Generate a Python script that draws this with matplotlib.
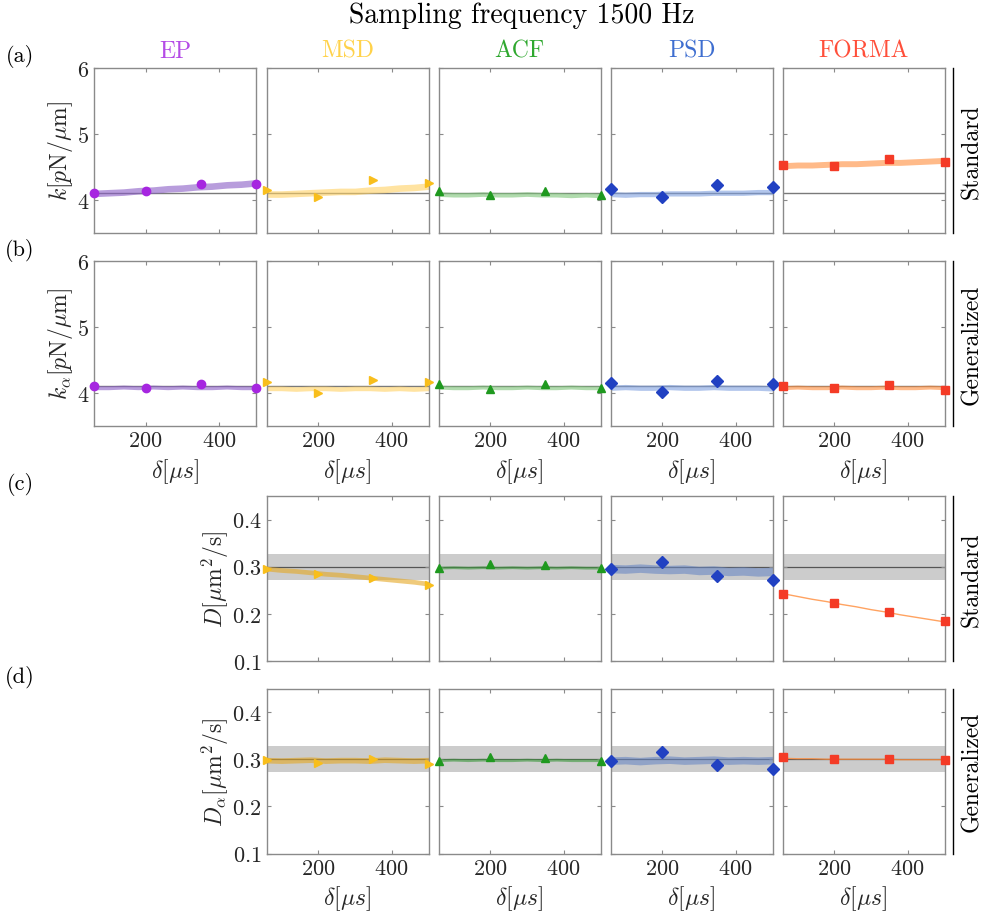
"""
Stiffness and diffusion estimates vs time step, sampling frequency 1500 Hz
"""

import matplotlib.pyplot as plt
import numpy as np

plt.rcParams["font.family"] = "cmr10"
plt.rcParams["mathtext.fontset"] = "cm"
plt.rcParams["axes.formatter.use_mathtext"] = True

METHODS = ["EP", "MSD", "ACF", "PSD", "FORMA"]
TITLE_COLORS = ["#B44BE6", "#FFD24A", "#2FA82F", "#3E6ED0", "#FF4F3A"]
MARKER_COLORS = ["#A626E0", "#F8BE1C", "#1F991F", "#2141C2", "#F43B26"]
BAND_COLORS = ["#8A5CC6", "#FFD163", "#7CC477", "#7FA0E0", "#FF8C3A"]
# bands over the grey tolerance strip look darker in the D rows
BAND_COLORS_D = ["#8A5CC6", "#E5A823", "#3E9A3E", "#6A88C4", "#FF8C3A"]
MARKERS = ["o", ">", "^", "D", "s"]

# delta [us]
delta = [60, 100, 140, 180, 220, 260, 300, 340, 380, 420, 460, 500]
delta_marks = [60, 200, 350, 500]

K_TRUE = 4.11
D_TRUE = 0.30
D_BAND = [0.272, 0.327]

# (a) k, standard
k_std_ep = [4.10, 4.11, 4.12, 4.14, 4.15, 4.17, 4.18, 4.20, 4.21, 4.23, 4.24, 4.26]
k_std_msd = [4.09, 4.09, 4.10, 4.11, 4.12, 4.13, 4.13, 4.15, 4.16, 4.18, 4.19, 4.21]
k_std_acf = [4.09, 4.08, 4.08, 4.09, 4.08, 4.08, 4.09, 4.08, 4.08, 4.07, 4.08, 4.07]
k_std_psd = [4.09, 4.08, 4.09, 4.09, 4.10, 4.10, 4.10, 4.11, 4.11, 4.11, 4.12, 4.12]
k_std_forma = [4.52, 4.53, 4.53, 4.54, 4.55, 4.55, 4.56, 4.57, 4.57, 4.58, 4.59, 4.60]
k_std_marks = [
    [4.11, 4.14, 4.25, 4.25],
    [4.15, 4.04, 4.30, 4.26],
    [4.13, 4.07, 4.13, 4.08],
    [4.16, 4.04, 4.23, 4.20],
    [4.53, 4.52, 4.62, 4.58],
]
k_std_hw = [0.05, 0.05, 0.035, 0.04, 0.045]

# (b) k_alpha, generalized
k_gen_ep = [4.08, 4.08, 4.09, 4.08, 4.09, 4.08, 4.09, 4.08, 4.08, 4.09, 4.08, 4.08]
k_gen_msd = [4.07, 4.07, 4.06, 4.07, 4.07, 4.06, 4.07, 4.07, 4.06, 4.07, 4.06, 4.07]
k_gen_acf = [4.09, 4.08, 4.08, 4.09, 4.08, 4.08, 4.09, 4.08, 4.08, 4.09, 4.08, 4.08]
k_gen_psd = [4.08, 4.09, 4.08, 4.08, 4.09, 4.08, 4.08, 4.09, 4.08, 4.08, 4.08, 4.07]
k_gen_forma = [4.08, 4.09, 4.08, 4.08, 4.09, 4.08, 4.08, 4.09, 4.08, 4.08, 4.09, 4.08]
k_gen_marks = [
    [4.11, 4.07, 4.13, 4.07],
    [4.16, 4.00, 4.20, 4.16],
    [4.13, 4.06, 4.13, 4.07],
    [4.15, 4.01, 4.18, 4.14],
    [4.10, 4.07, 4.12, 4.05],
]
k_gen_hw = [0.03, 0.035, 0.03, 0.04, 0.03]

# (c) D, standard (no EP)
d_std_msd = [0.296, 0.293, 0.291, 0.288, 0.285, 0.283, 0.280, 0.277, 0.274, 0.271, 0.268, 0.264]
d_std_acf = [0.298, 0.299, 0.298, 0.299, 0.298, 0.299, 0.298, 0.299, 0.298, 0.299, 0.298, 0.298]
d_std_psd = [0.296, 0.295, 0.297, 0.295, 0.294, 0.295, 0.292, 0.293, 0.290, 0.291, 0.289, 0.290]
d_std_forma = [0.243, 0.237, 0.231, 0.226, 0.220, 0.215, 0.209, 0.204, 0.198, 0.193, 0.188, 0.183]
d_std_marks = [
    None,
    [0.296, 0.284, 0.277, 0.262],
    [0.297, 0.305, 0.303, 0.297],
    [0.295, 0.311, 0.281, 0.271],
    [0.243, 0.223, 0.203, 0.184],
]
d_std_hw = [0, 0.005, 0.003, 0.009, 0.001]

# (d) D_alpha, generalized (no EP)
d_gen_msd = [0.298, 0.297, 0.298, 0.299, 0.297, 0.298, 0.298, 0.297, 0.299, 0.298, 0.297, 0.298]
d_gen_acf = [0.298, 0.299, 0.298, 0.299, 0.298, 0.298, 0.299, 0.298, 0.299, 0.298, 0.298, 0.298]
d_gen_psd = [0.297, 0.298, 0.296, 0.298, 0.299, 0.297, 0.298, 0.299, 0.297, 0.298, 0.297, 0.298]
d_gen_forma = [0.302, 0.301, 0.301, 0.300, 0.300, 0.300, 0.300, 0.300, 0.299, 0.299, 0.299, 0.299]
d_gen_marks = [
    None,
    [0.298, 0.292, 0.300, 0.289],
    [0.296, 0.305, 0.302, 0.296],
    [0.296, 0.315, 0.288, 0.280],
    [0.304, 0.301, 0.300, 0.298],
]
d_gen_hw = [0, 0.006, 0.003, 0.008, 0.001]

ROWS = [
    ([k_std_ep, k_std_msd, k_std_acf, k_std_psd, k_std_forma], k_std_marks, k_std_hw),
    ([k_gen_ep, k_gen_msd, k_gen_acf, k_gen_psd, k_gen_forma], k_gen_marks, k_gen_hw),
    ([None, d_std_msd, d_std_acf, d_std_psd, d_std_forma], d_std_marks, d_std_hw),
    ([None, d_gen_msd, d_gen_acf, d_gen_psd, d_gen_forma], d_gen_marks, d_gen_hw),
]
YLABELS = [
    r"$k[p\mathrm{N}/\mu\mathrm{m}]$",
    r"$k_\alpha[p\mathrm{N}/\mu\mathrm{m}]$",
    r"$D[\mu\mathrm{m}^2/\mathrm{s}]$",
    r"$D_\alpha[\mu\mathrm{m}^2/\mathrm{s}]$",
]
ROW_TAGS = ["(a)", "(b)", "(c)", "(d)"]
SIDE_LABELS = ["Standard", "Generalized", "Standard", "Generalized"]

# layout in pixels
W, H = 983, 920
COL_LEFT = [94, 266.5, 438.5, 610.5, 782.5]
COL_W = 162
ROW_TOP = [69, 262, 497, 689.5]
ROW_H = 165
SPINE = "#8a8a8a"


def style_axes(ax, row, col, first_col):
    for sp in ax.spines.values():
        sp.set_color(SPINE)
        sp.set_linewidth(1.0)
    ax.tick_params(direction="in", length=3, width=0.8, color=SPINE,
                   top=True, right=True, labelsize=16, labelcolor="#262626")
    ax.set_xlim(60, 500)
    ax.set_xticks([200, 400])
    if row < 2:
        ax.set_ylim(3.5, 6)
        ax.set_yticks([4, 5, 6])
    else:
        ax.set_ylim(0.1, 0.45)
        ax.set_yticks([0.1, 0.2, 0.3, 0.4])
    if row in (1, 3):
        ax.set_xlabel(r"$\delta[\mu s]$", fontsize=17, color="#262626", labelpad=4)
    else:
        ax.tick_params(labelbottom=False)
    if col == first_col:
        ax.set_ylabel(YLABELS[row], fontsize=17, color="#262626", labelpad=1)
    else:
        ax.tick_params(labelleft=False)


def plot_figure():
    fig = plt.figure(figsize=(W / 100, H / 100), dpi=100)
    fig.text(522 / W, 1 - 16 / H, "Sampling frequency 1500 Hz",
             ha="center", va="center", fontsize=20)

    for row, (series, marks, hws) in enumerate(ROWS):
        first_col = 0 if row < 2 else 1
        bands = BAND_COLORS if row < 2 else BAND_COLORS_D
        axes = []
        for col in range(5):
            if series[col] is None:
                continue
            ax = fig.add_axes([COL_LEFT[col] / W, 1 - (ROW_TOP[row] + ROW_H) / H,
                               COL_W / W, ROW_H / H])
            axes.append(ax)
            y = np.array(series[col])
            if row < 2:
                ax.axhline(K_TRUE, color="#7a7a7a", lw=1.0, zorder=1)
            else:
                ax.axhspan(D_BAND[0], D_BAND[1], color="#cccccc", lw=0, zorder=0)
                ax.axhline(D_TRUE, color="#555555", lw=0.9, zorder=1)
            if hws[col] > 0.002:
                ax.fill_between(delta, y - hws[col], y + hws[col],
                                color=bands[col], alpha=0.6, lw=0, zorder=2)
            else:
                ax.plot(delta, y, color=bands[col], lw=1.0, alpha=0.8, zorder=2)
            ax.plot(delta_marks, marks[col], ls="none", marker=MARKERS[col],
                    ms=6, color=MARKER_COLORS[col], mec=MARKER_COLORS[col],
                    clip_on=False, zorder=3)
            style_axes(ax, row, col, first_col)
            if row == 0:
                ax.set_title(METHODS[col], color=TITLE_COLORS[col], fontsize=17, pad=8)

        # side label with vertical bar
        last = axes[-1]
        last.plot([1.055, 1.055], [0, 1], color="black", lw=1.0,
                  transform=last.transAxes, clip_on=False)
        last.text(1.17, 0.5, SIDE_LABELS[row], rotation=90, ha="center", va="center",
                  fontsize=17, transform=last.transAxes)

        fig.text(20 / W, 1 - (ROW_TOP[row] - 12) / H, ROW_TAGS[row],
                 ha="center", va="center", fontsize=16)

    fig.savefig("out.png", dpi=100)


if __name__ == "__main__":
    plot_figure()
